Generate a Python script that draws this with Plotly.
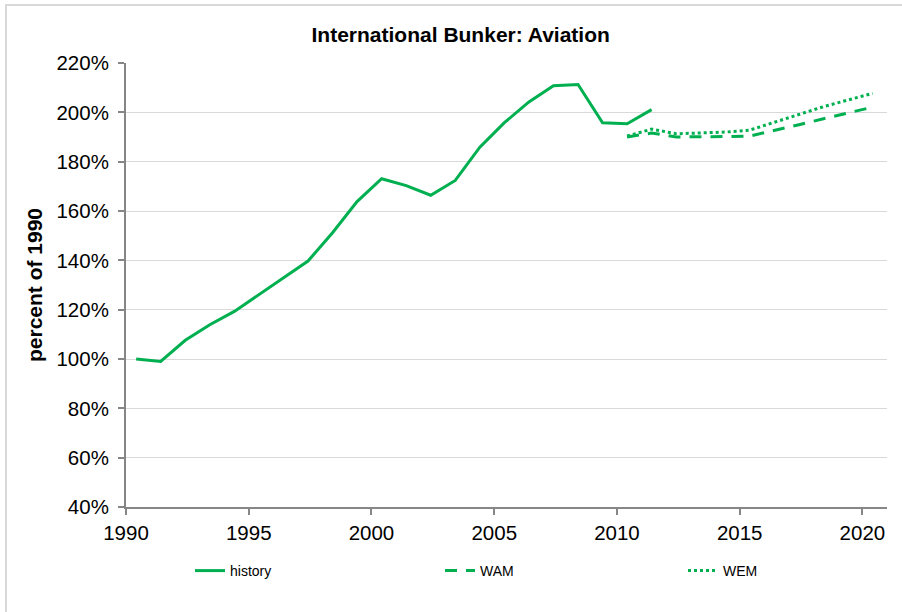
import plotly.graph_objects as go

# ---- data ----
hist_years = list(range(1990, 2012))
hist_vals = [100.0, 99.0, 107.6, 113.9, 119.3, 126.0, 132.8, 139.7, 151.2, 163.8,
             173.1, 170.3, 166.4, 172.4, 185.9, 195.8, 204.2, 210.8, 211.3, 195.8,
             195.4, 201.1]
proj_years = list(range(2010, 2021))
wam_vals = [190.0, 191.6, 190.0, 190.0, 190.2, 190.4, 192.6, 195.0, 197.4, 199.7, 202.1]
wem_vals = [190.4, 193.2, 191.3, 191.5, 192.0, 192.8, 196.0, 199.3, 202.3, 205.0, 207.7]
y_ticks = [40, 60, 80, 100, 120, 140, 160, 180, 200, 220]

GREEN = "#00B050"
FONT = "Arial, 'Liberation Sans', sans-serif"


def as_dates(years):
    # Excel date axis: yearly values are plotted at the start of June
    return [f"{y}-06-01" for y in years]


fig = go.Figure()
fig.add_trace(go.Scatter(x=as_dates(hist_years), y=hist_vals, mode="lines", name="history",
                         line=dict(color=GREEN, width=3), legend="legend"))
fig.add_trace(go.Scatter(x=as_dates(proj_years), y=wam_vals, mode="lines", name="WAM",
                         line=dict(color=GREEN, width=3, dash="12px,9px"), legend="legend2"))
fig.add_trace(go.Scatter(x=as_dates(proj_years), y=wem_vals, mode="lines", name="WEM",
                         line=dict(color=GREEN, width=3, dash="dot"), legend="legend3"))

W, H = 902, 612
ML, MR, MT, MB = 126, 15, 63, 105
PW, PH = W - ML - MR, H - MT - MB


def px2paper_x(px):
    return (px - ML) / PW


def px2paper_y(py):
    return (H - MB - py) / PH


leg_common = dict(orientation="h", yanchor="middle", xanchor="left",
                  font=dict(family=FONT, size=14, color="#000000"),
                  bgcolor="rgba(0,0,0,0)", borderwidth=0)

fig.update_layout(
    width=W, height=H,
    margin=dict(l=ML, r=MR, t=MT, b=MB),
    paper_bgcolor="white", plot_bgcolor="white",
    font=dict(family=FONT, color="#000000"),
    title=dict(text="<b>International Bunker: Aviation</b>",
               font=dict(family=FONT, size=21, color="#000000"),
               x=460.7 / W, xanchor="center", xref="container",
               y=1 - 35 / H, yanchor="middle"),
    showlegend=True,
    legend=dict(x=px2paper_x(190), y=px2paper_y(571), **leg_common),
    legend2=dict(x=px2paper_x(440), y=px2paper_y(571), **leg_common),
    legend3=dict(x=px2paper_x(683), y=px2paper_y(571), **leg_common),
    xaxis=dict(
        type="date",
        range=["1990-01-01", "2021-01-01"],
        tick0="1990-01-01", dtick="M60", tickformat="%Y",
        showgrid=False, zeroline=False,
        showline=True, linecolor="#868686", linewidth=2,
        ticks="outside", ticklen=6, tickwidth=1.5, tickcolor="#868686",
        tickfont=dict(family=FONT, size=20.5, color="#000000"),
    ),
    yaxis=dict(
        range=[40, 220], tickvals=y_ticks, ticktext=[f"{v}%" for v in y_ticks],
        showgrid=True, gridcolor="#D9D9D9", gridwidth=1, zeroline=False,
        showline=True, linecolor="#868686", linewidth=2,
        ticks="outside", ticklen=6, tickwidth=1.5, tickcolor="#868686",
        ticklabelstandoff=5,
        tickfont=dict(family=FONT, size=20.5, color="#000000"),
        title=dict(text="<b>percent of 1990</b>", standoff=8,
                   font=dict(family=FONT, size=21, color="#000000")),
    ),
    shapes=[dict(type="rect", xref="paper", yref="paper",
                 x0=px2paper_x(6), x1=px2paper_x(910),
                 y0=px2paper_y(620), y1=px2paper_y(5),
                 line=dict(color="#D9D9D9", width=2), fillcolor="rgba(0,0,0,0)",
                 layer="below")],
)

fig.write_html("out.html",
               config={"displayModeBar": False},
               post_script="document.body.style.margin='0';document.body.style.overflow='hidden';")
